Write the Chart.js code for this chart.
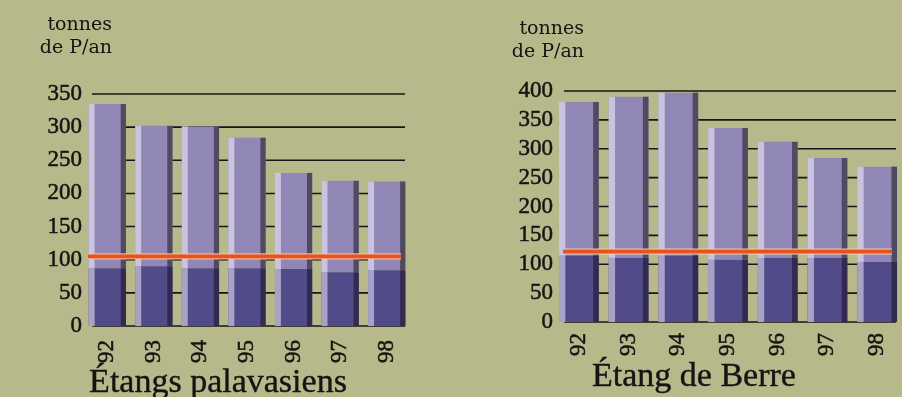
<!DOCTYPE html>
<html lang="fr">
<head>
<meta charset="utf-8">
<title>Apports de phosphore</title>
<script src="https://cdn.jsdelivr.net/npm/chart.js@4.4.1/dist/chart.umd.min.js"></script>
<style>
    html, body { margin: 0; padding: 0; background: #b7b98a; }
    body { width: 902px; height: 397px; position: relative; overflow: hidden;
           font-family: 'Liberation Serif', serif; color: #141414; }
    .panel { position: absolute; top: 0; width: 451px; height: 397px; }
    .unite { position: absolute; font-family: 'DejaVu Serif', serif; font-size: 19px; line-height: 23px; text-align: right; }
    .titre { position: absolute; font-size: 34px; line-height: 34px; text-align: center; white-space: nowrap;
             -webkit-text-stroke: 0.4px #141414; }
</style>
</head>
<body>
<div class="panel" style="left:0"><canvas id="graficoPalavas" width="451" height="397"></canvas></div>
<div class="panel" style="left:451px"><canvas id="graficoBerre" width="451" height="397"></canvas></div>
<div class="unite" style="left:0;width:112px;top:12px">tonnes<br>de P/an</div>
<div class="unite" style="left:480px;width:104px;top:16px">tonnes<br>de P/an</div>
<div class="titre" style="left:18px;width:400px;top:364px">Étangs palavasiens</div>
<div class="titre" style="left:494px;width:400px;top:358px">Étang de Berre</div>

<script>
const annees = ['92', '93', '94', '95', '96', '97', '98'];

// Étangs palavasiens : partie basse (foncée) et partie haute (claire)
const palavasBas = [87, 90, 87, 87, 86, 81, 84];
const palavasHaut = [248, 212, 214, 197, 145, 138, 134];
const palavasGraduations = [0, 50, 100, 150, 200, 250, 300, 350];
const palavasSeuil = 105;

// Étang de Berre
const berreBas = [115, 111, 115, 108, 111, 111, 104];
const berreHaut = [266, 279, 282, 228, 201, 173, 165];
const berreGraduations = [0, 50, 100, 150, 200, 250, 300, 350, 400];
const berreSeuil = 122;

const police = "'Liberation Serif', serif";

// grille, relief des barres et ligne de seuil
const relief = {
    id: 'relief',
    beforeDatasetsDraw(chart, args, opts) {
        const { ctx, chartArea, scales: { y } } = chart;
        ctx.save();
        ctx.strokeStyle = '#161616';
        ctx.lineWidth = 1.6;
        y.ticks.forEach(t => {
            const py = y.getPixelForValue(t.value);
            ctx.beginPath();
            ctx.moveTo(chartArea.left + opts.grilleG, py);
            ctx.lineTo(chartArea.right - opts.grilleD, py);
            ctx.stroke();
        });
        ctx.restore();
    },
    afterDatasetsDraw(chart, args, opts) {
        const { ctx, chartArea, scales: { y } } = chart;
        ctx.save();
        chart.data.datasets.forEach((ds, i) => {
            chart.getDatasetMeta(i).data.forEach(bar => {
                const { x, y: haut, base, width } = bar.getProps(['x', 'y', 'base', 'width'], true);
                const g = x - width / 2;
                const h = base - haut;
                ctx.fillStyle = ds.clair;
                ctx.fillRect(g, haut, width * 0.16, h);
                ctx.fillStyle = ds.sombre;
                ctx.fillRect(g + width * 0.86, haut, width * 0.14, h);
            });
        });

        const ys = y.getPixelForValue(opts.seuil);
        const x0 = chartArea.left + opts.seuilG;
        const w = chartArea.right - opts.seuilD - x0;
        ctx.fillStyle = '#f2cdb0';
        ctx.fillRect(x0, ys - 3, w, 6);
        ctx.fillStyle = '#e8521e';
        ctx.fillRect(x0, ys - 2, w, 4);
        ctx.restore();
    }
};

function creerGraphique(id, bas, haut, graduations, seuil, cadre) {
    const ctx = document.getElementById(id);

    new Chart(ctx, {
        type: 'bar',
        data: {
            labels: annees,
            datasets: [{
                data: bas,
                backgroundColor: '#514b8a',
                clair: '#a8a3c6',
                sombre: '#332b4f',
                borderWidth: 0
            }, {
                data: haut,
                backgroundColor: '#9087b7',
                clair: '#c8c3de',
                sombre: '#504a60',
                borderWidth: 0
            }]
        },
        options: {
            responsive: false,
            animation: false,
            devicePixelRatio: 1,
            barPercentage: 0.8,
            categoryPercentage: 1,
            layout: {
                padding: { top: cadre.haut, right: cadre.droite, bottom: 0, left: 0 }
            },
            plugins: {
                legend: { display: false },
                tooltip: { enabled: false },
                relief: {
                    seuil: seuil,
                    grilleG: cadre.grilleG,
                    grilleD: cadre.grilleD,
                    seuilG: cadre.seuilG,
                    seuilD: cadre.seuilD
                }
            },
            scales: {
                x: {
                    stacked: true,
                    grid: { display: false, drawTicks: false },
                    border: { display: false },
                    ticks: {
                        minRotation: 90,
                        maxRotation: 90,
                        autoSkip: false,
                        padding: cadre.padX,
                        color: '#141414',
                        textStrokeColor: '#141414',
                        textStrokeWidth: 0.5,
                        font: { family: police, size: 23 }
                    },
                    afterFit: s => {
                        s.height = cadre.hauteurX;
                        s.paddingLeft = 0;
                        s.paddingRight = 0;
                    }
                },
                y: {
                    stacked: true,
                    min: graduations[0],
                    max: graduations[graduations.length - 1],
                    grid: { display: false, drawTicks: false },
                    border: { display: false },
                    afterBuildTicks: s => {
                        s.ticks = graduations.map(v => ({ value: v }));
                    },
                    ticks: {
                        autoSkip: false,
                        padding: cadre.padY,
                        color: '#141414',
                        textStrokeColor: '#141414',
                        textStrokeWidth: 0.5,
                        font: { family: police, size: 23 }
                    },
                    afterFit: s => {
                        s.width = cadre.largeurY;
                    }
                }
            }
        },
        plugins: [relief]
    });
}

document.addEventListener('DOMContentLoaded', () => {
    creerGraphique('graficoPalavas', palavasBas, palavasHaut, palavasGraduations, palavasSeuil, {
        haut: 94, droite: 41, largeurY: 84, hauteurX: 71, padX: 14, padY: 2,
        grilleG: 8, grilleD: 5, seuilG: 4, seuilD: 9
    });
    creerGraphique('graficoBerre', berreBas, berreHaut, berreGraduations, berreSeuil, {
        haut: 91, droite: 0, largeurY: 103, hauteurX: 75, padX: 11, padY: 1,
        grilleG: 10, grilleD: 6, seuilG: 9, seuilD: 10
    });
});
</script>
</body>
</html>
